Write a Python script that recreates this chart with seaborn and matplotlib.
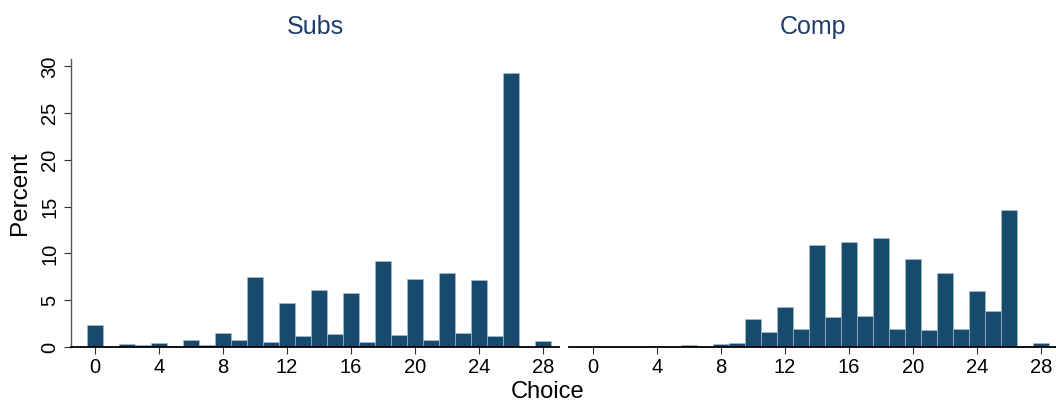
import numpy as np
import seaborn as sns
import matplotlib.pyplot as plt

# percent of choices 0..28 by treatment
choice = list(range(29))
subs = [2.32, 0, 0.36, 0.21, 0.46, 0.14, 0.75, 0.18, 1.46, 0.75,
        7.46, 0.57, 4.75, 1.14, 6.14, 1.39, 5.75, 0.57, 9.25, 1.25,
        7.25, 0.79, 7.96, 1.5, 7.14, 1.21, 29.25, 0, 0.61]
comp = [0.05, 0, 0, 0, 0.15, 0, 0.2, 0, 0.29, 0.46,
        3.04, 1.57, 4.25, 1.96, 10.96, 3.18, 11.18, 3.36, 11.61, 1.96,
        9.46, 1.79, 7.96, 1.96, 6.04, 3.89, 14.68, 0.1, 0.39]
panels = ["Subs", "Comp"]
xticks = [0, 4, 8, 12, 16, 20, 24, 28]
yticks = [0, 5, 10, 15, 20, 25, 30]

sns.set_style("white")
plt.rcParams['font.family'] = ['Liberation Sans', 'DejaVu Sans']
plt.rcParams['text.color'] = 'black'
plt.rcParams['xtick.color'] = 'black'
plt.rcParams['ytick.color'] = 'black'

bar_col = '#174a6e'
title_col = '#1e3d6b'

fig = plt.figure(figsize=(10.56, 4.03), dpi=100)
ax1 = fig.add_axes([71/1056, 56/403, 488/1056, 288/403])
ax2 = fig.add_axes([569/1056, 56/403, 488/1056, 288/403])

for ax, vals, name in zip([ax1, ax2], [subs, comp], panels):
    sns.histplot(x=choice, weights=vals, discrete=True, ax=ax, color=bar_col,
                 alpha=1, edgecolor='#a9c1d3', linewidth=0.4, shrink=1)
    ax.set_xlim(-1.5, 29)
    ax.set_ylim(0, 30.8)
    ax.set_xticks(xticks)
    ax.set_xlabel('')
    ax.set_ylabel('')
    ax.set_title(name, fontsize=18, color=title_col, pad=18)
    for s in ['top', 'right']:
        ax.spines[s].set_visible(False)
    ax.spines['bottom'].set_color('black')
    ax.spines['bottom'].set_linewidth(1.3)
    ax.tick_params(axis='x', labelsize=14.5, length=5, width=0.8, color='#333333',
                   labelcolor='black', bottom=True, pad=3)

ax1.set_yticks(yticks)
ax1.tick_params(axis='y', labelsize=14.5, length=5, width=0.8, color='#333333',
                labelcolor='black', left=True, labelrotation=90)
for lab in ax1.get_yticklabels():
    lab.set_verticalalignment('center')
ax1.spines['left'].set_color('#555555')
ax1.spines['left'].set_linewidth(1.0)

ax2.spines['left'].set_visible(False)
ax2.set_yticks([])

fig.text(548/1056, 1 - 392/403, 'Choice', ha='center', va='center', fontsize=17)
fig.text(20/1056, 1 - 193/403, 'Percent', ha='center', va='center', fontsize=17.5,
         rotation=90)

fig.savefig('out.png', dpi=100, facecolor='white')
